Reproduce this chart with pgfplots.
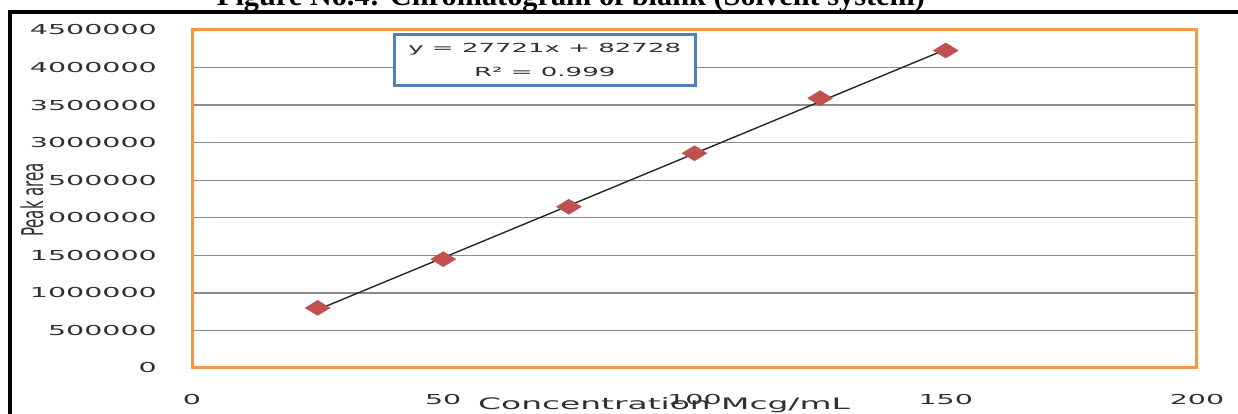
\documentclass[border=0pt]{standalone}
\usepackage{pgfplots}
\pgfplotsset{compat=1.18}
\usepackage{fontspec}
\setmainfont{DejaVu Sans}
\newfontfamily\tickfont[FakeStretch=2.08]{DejaVu Sans}
\newfontfamily\plainfont{DejaVu Sans}
\newfontfamily\titlefont{Liberation Serif}
\definecolor{excelorange}{HTML}{F79646}
\definecolor{excelblue}{HTML}{4F81BD}
\definecolor{excelred}{HTML}{C0504D}
\definecolor{gridgray}{HTML}{8C8C8C}
\definecolor{textgray}{HTML}{303030}
\begin{document}
\begin{tikzpicture}
\useasboundingbox (0,0) rectangle (1238pt,414pt);
\clip (0,0) rectangle (1238pt,414pt);
\fill[white] (0,0) rectangle (1238pt,414pt);
% title (cut off) and outer frame
\node[anchor=base, inner sep=0pt] at (571pt,408pt) {\resizebox{708pt}{!}{\titlefont\bfseries Figure No.4: Chromatogram of blank (Solvent system)}};
\draw[line width=4pt] (9.5pt,-2pt) -- (9.5pt,402pt) -- (1240pt,402pt);
\begin{axis}[
  at={(192pt,46pt)}, anchor=south west,
  scale only axis, width=1005pt, height=338pt,
  xmin=0, xmax=200, ymin=0, ymax=4500000,
  xtick={0,50,100,150,200},
  ytick={0,500000,1000000,1500000,2000000,2500000,3000000,3500000,4000000,4500000},
  scaled y ticks=false, scaled x ticks=false,
  /pgf/number format/assume math mode=true,
  yticklabel style={/pgf/number format/fixed, /pgf/number format/1000 sep={}, anchor=east, inner sep=0pt, xshift=-35pt},
  xticklabel style={anchor=center, inner sep=0pt, yshift=-32pt},
  ticklabel style={font=\tickfont\fontsize{13.7}{14}\selectfont, text=textgray},
  major tick length=0pt,
  ymajorgrids, grid style={color=gridgray, line width=1.3pt},
  axis line style={color=excelorange, line width=3pt},
  xlabel={Concentration Mcg/mL},
  every axis x label/.style={at={(axis description cs:0.4697,-0.1228)}, anchor=base, font=\tickfont\fontsize{15.8}{16}\selectfont, text=textgray, inner sep=0pt},
  ylabel={\scalebox{1}[2.0]{\plainfont\fontsize{15}{16}\selectfont Peak area}},
  every axis y label/.style={at={(axis description cs:-0.1592,0.497)}, anchor=center, rotate=90, fill=white, inner sep=1pt, text=textgray},
]
\addplot[only marks, color=excelred, mark=diamond*, mark size=7.5pt, mark options={xscale=2.2, fill=excelred, draw=excelred, line width=0.5pt}]
  coordinates {(25,800000) (50,1449000) (75,2147000) (100,2859000) (125,3592000) (150,4227000)};
\addplot[black!85, line width=1.4pt, no marks]
  coordinates {(25,775753) (150,4240878)};
\draw[gridgray, line width=1.2pt] ([xshift=-1.8pt]rel axis cs:0,1) -- ([xshift=-1.8pt,yshift=-1.8pt]rel axis cs:0,0) -- ([yshift=-1.8pt]rel axis cs:1,0);
\node[draw=excelblue, line width=3pt, fill=white, minimum width=301pt, minimum height=51pt, align=center, inner sep=0pt, text=textgray, font=\tickfont\fontsize{12.5}{24}\selectfont] at (rel axis cs:0.351,0.911) {y = 27721x + 82728\\R² = 0.999};
\end{axis}
\end{tikzpicture}
\end{document}
